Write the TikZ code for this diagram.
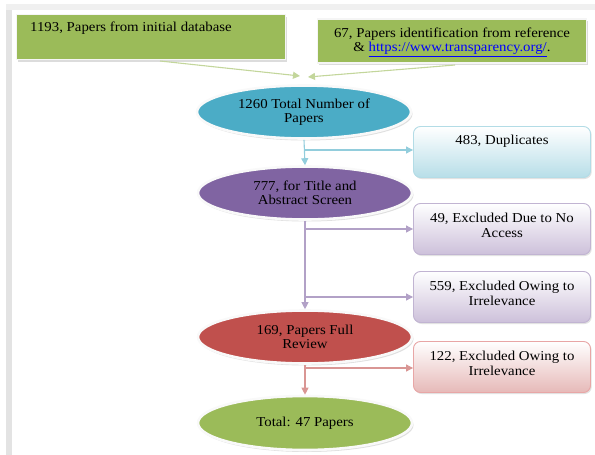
\documentclass[tikz,border=0pt]{standalone}
\usepackage{fontspec}
\setmainfont[FakeStretch=1.09]{Liberation Serif}
\usetikzlibrary{shapes.geometric,shadows,arrows.meta}
\definecolor{grn}{HTML}{9BBB59}
\definecolor{grnl}{HTML}{C3D69B}
\definecolor{teal1}{HTML}{4BACC6}
\definecolor{teall}{HTML}{92CDDC}
\definecolor{tealb}{HTML}{B7DEE8}
\definecolor{purp}{HTML}{8064A2}
\definecolor{purpl}{HTML}{B2A1C7}
\definecolor{purpb}{HTML}{CCC0DA}
\definecolor{redd}{HTML}{C0504D}
\definecolor{redl}{HTML}{D99694}
\definecolor{redb}{HTML}{E6B9B8}
\definecolor{urlblue}{HTML}{0000FF}
\tikzset{
  txt/.style={font=\fontsize{13.6}{14.5}\selectfont, align=center, text=black},
  ell/.style={ellipse, draw=white!95!gray, line width=2.6pt, minimum width=214pt, minimum height=53pt,
    drop shadow={shadow xshift=1.5pt, shadow yshift=-2pt, fill=gray!50}, inner sep=0pt},
  topbox/.style={rectangle, fill=grn, draw=white!92!gray, line width=1.8pt,
    drop shadow={shadow xshift=1.5pt, shadow yshift=-2pt, fill=gray!55}},
  sidebox/.style={rectangle, rounded corners=7pt, minimum width=177pt, minimum height=51pt,
    top color=white, line width=0.9pt, drop shadow={shadow xshift=1.2pt, shadow yshift=-1.5pt, fill=gray!45}},
  arr/.style={line width=1.1pt, -{Triangle[length=7pt,width=7pt]}},
}
\begin{document}
\begin{tikzpicture}[x=1pt,y=-1pt]
\useasboundingbox (0,0) rectangle (595,455);
% page edge
\fill[gray!22] (6,6) rectangle (12,455);
\fill[gray!12] (6,4) rectangle (595,10);
% top boxes
\node[topbox, minimum width=269pt, minimum height=45pt] (tl) at (151,37) {};
\node[txt, anchor=base west, inner sep=0pt] (tlt) at (30,31) {1193, Papers from initial database};
\node[topbox, minimum width=269pt, minimum height=44pt] (tr) at (452,41) {};
\node[txt, anchor=center] (trt) at ([yshift=-1pt]tr.center) {67, Papers identification from reference\\ \& {\color{urlblue}\underline{https://www.transparency.org/}}.};
% ellipses
\node[ell, fill=teal1] (e1) at (304,112) {};
\node[txt] (e1t) at (e1.center) {1260 Total Number of\\ Papers};
\node[ell, fill=purp] (e2) at (305,193) {};
\node[txt] (e2t) at (e2.center) {777, for Title and\\ Abstract Screen};
\node[ell, fill=redd] (e3) at (305,337) {};
\node[txt] (e3t) at (e3.center) {169, Papers Full\\ Review};
\node[ell, fill=grn, minimum height=54pt] (e4) at (305,423) {};
\node[txt] (e4t) at (e4.center) {Total: 47 Papers};
% side boxes
\node[sidebox, bottom color=tealb, draw=teall!70] (d) at (502,152) {};
\node[txt, anchor=north, inner sep=0pt] (dt) at ([yshift=-9pt]d.north) {483, Duplicates};
\node[sidebox, bottom color=purpb, draw=purpl!80] (n) at (502,229) {};
\node[txt, anchor=north, inner sep=0pt] (nt) at ([yshift=-10pt]n.north) {49, Excluded Due to No\\ Access};
\node[sidebox, bottom color=purpb, draw=purpl!80] (i1) at (502,297) {};
\node[txt, anchor=north, inner sep=0pt] (i1t) at ([yshift=-10pt]i1.north) {559, Excluded Owing to\\ Irrelevance};
\node[sidebox, bottom color=redb, draw=redb!90!red] (i2) at (502,367) {};
\node[txt, anchor=north, inner sep=0pt] (i2t) at ([yshift=-10pt]i2.north) {122, Excluded Owing to\\ Irrelevance};
% coordinates
\coordinate (s1) at (160,61);
\coordinate (s2) at (455,65);
\coordinate (a1) at (300,76);
\coordinate (a2) at (308,77);
\coordinate (b1) at (305,150);
\coordinate (b2) at (305,229);
\coordinate (b3) at (305,297);
\coordinate (b4) at (305,368);
% connectors
\draw[arr, grnl] (s1) -- (a1);
\draw[arr, grnl] (s2) -- (a2);
\draw[arr, teall] (e1.south) -- (e2.north);
\draw[arr, teall] (b1) -- (d.west |- b1);
\draw[arr, purpl] (e2.south) -- (e3.north);
\draw[arr, purpl] (b2) -- (n.west |- b2);
\draw[arr, purpl] (b3) -- (i1.west |- b3);
\draw[arr, redl] (e3.south) -- (e4.north);
\draw[arr, redl] (b4) -- (i2.west |- b4);
\end{tikzpicture}
\end{document}
